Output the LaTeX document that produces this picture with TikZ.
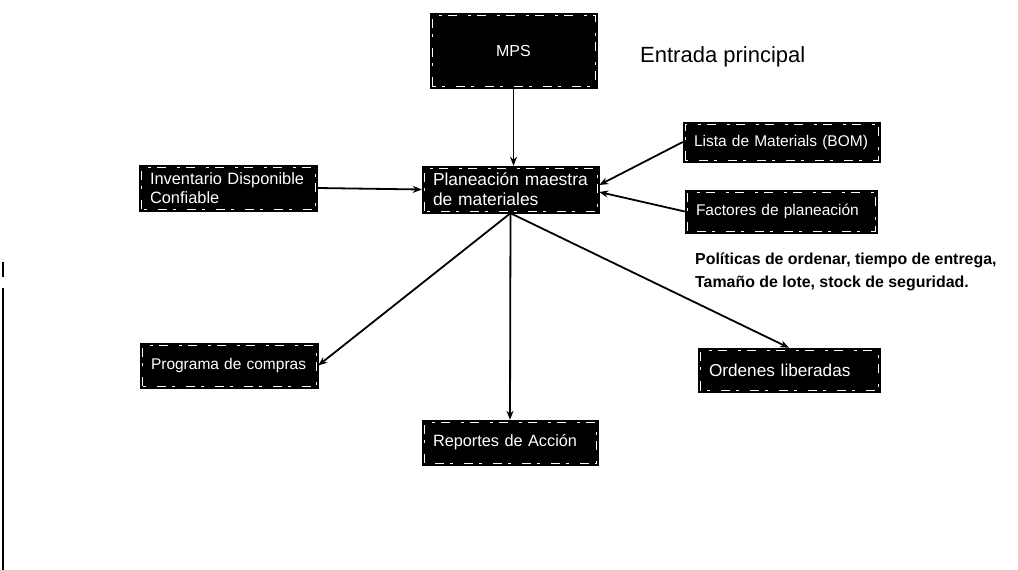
\documentclass[tikz,border=0pt]{standalone}
\usepackage{fontspec}
\setmainfont{Liberation Sans}
\usetikzlibrary{arrows.meta}
\newcommand{\bfs}[1]{\fontsize{#1}{19}\selectfont}
\begin{document}
\begin{tikzpicture}[x=1pt,y=-1pt,
  box/.style={fill=black,draw=black,text=white,font=\bfs{15.5},
    inner xsep=11pt,inner ysep=2pt,align=left,
    path picture={\draw[white,line width=0.6pt,dash pattern=on 9pt off 11pt on 3pt off 6pt]
      ([shift={(2pt,2pt)}]path picture bounding box.south west) rectangle
      ([shift={(-2pt,-2pt)}]path picture bounding box.north east);}},
  conn/.style={line width=1.8pt,-{Stealth[length=9pt,width=7pt]}}]
\useasboundingbox (0,0) rectangle (1018,570);
% boxes
\node[box,align=center,font=\bfs{16},minimum width=167pt,minimum height=75pt] (mps) at (513.5,50.5) {MPS};
\node[box,font=\fontsize{17.4}{20}\selectfont,text width=155pt,minimum height=47pt] (plan) at (510.5,189.5) {Planeación maestra\\de materiales};
\node[box,font=\fontsize{16.4}{19}\selectfont,text width=156pt,minimum height=46pt] (inv) at (228,188) {Inventario Disponible\\Confiable};
\node[box,text width=175pt,minimum height=40pt] (bom) at (781.5,142) {Lista de Materials (BOM)};
\node[box,text width=170pt,minimum height=43pt] (fac) at (781,211.5) {Factores de planeación};
\node[box,text width=156pt,minimum height=45pt] (prog) at (229,365.5) {Programa de compras};
\node[box,font=\bfs{16.3},text width=154pt,minimum height=45pt] (rep) at (510,442.5) {Reportes de Acción};
\node[box,font=\bfs{17.2},text width=160pt,minimum height=44pt] (ord) at (789,370) {Ordenes liberadas};
% texts
\node[anchor=west,inner sep=0pt,font=\fontsize{22}{26}\selectfont] (ent) at (640,57) {Entrada principal};
\node[anchor=base west,inner sep=0pt,align=left,font=\bfseries\fontsize{15.9}{23}\selectfont] (pol) at (695,287) {Políticas de ordenar, tiempo de entrega,\\Tamaño de lote, stock de seguridad.};
% connectors
\draw[conn] (mps.south) -- (mps.south |- plan.north);
\draw[conn] (inv.east) -- (plan.west);
\draw[conn] (bom.west) -- ([yshift=4.5pt]plan.east);
\draw[conn] (fac.west) -- ([yshift=-2.5pt]plan.east);
\draw[conn] (plan.south) -- (prog.east);
\draw[conn] (plan.south) -- (rep.north);
\draw[conn] (plan.south) -- (ord.north);
% scan edge line
\draw[line width=1.5pt] (3,262) -- (3,277);
\draw[line width=1.5pt] (3,288) -- (3,570);
\end{tikzpicture}
\end{document}
